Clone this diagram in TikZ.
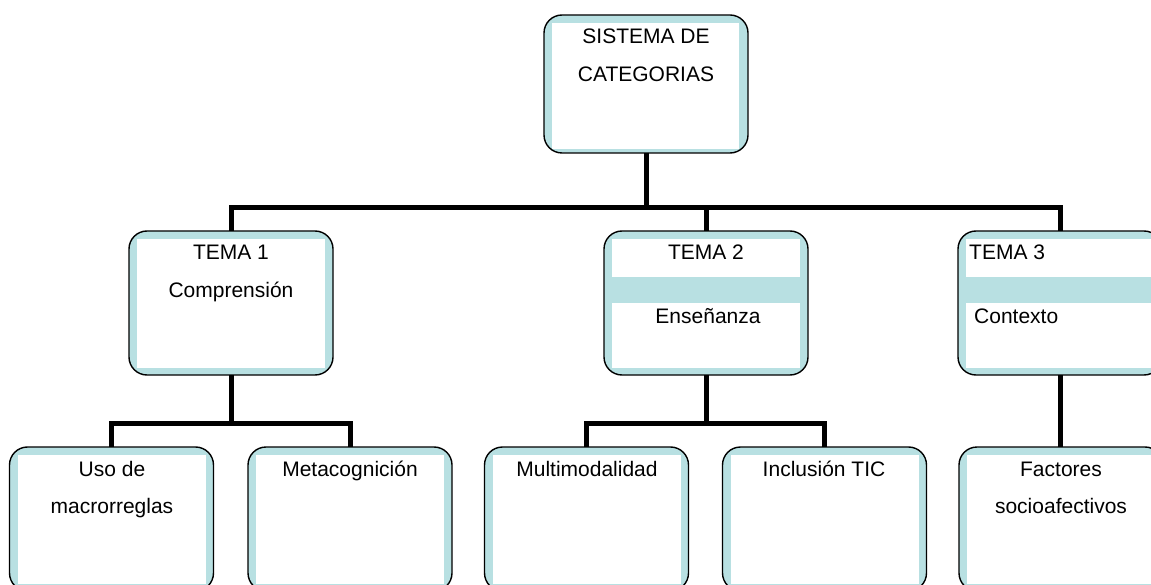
\documentclass[tikz,border=0pt]{standalone}
\usepackage{fontspec}
\setmainfont{Liberation Sans}
\usetikzlibrary{calc}
\definecolor{boxblue}{RGB}{184,224,226}
\tikzset{
  box/.style={draw=black, line width=1.4pt, rounded corners=18pt, fill=boxblue,
    minimum width=204pt, minimum height=144pt, inner sep=0pt, outer sep=0pt},
  conn/.style={draw=black, line width=5pt, line join=miter},
  lbl/.style={inner sep=0pt, anchor=base, font=\fontsize{21}{25}\selectfont},
  lblw/.style={lbl, anchor=base west},
  inner/.style={fill=white},
  stripe/.style={fill=boxblue}
}
\begin{document}
\begin{tikzpicture}[x=1pt,y=-1pt]
\useasboundingbox (0,0) rectangle (1151,585);
\clip (0,0) rectangle (1151,585);
% boxes
\node[box, minimum height=138pt] (root) at (646,84) {};
\node[box] (t1) at (231,303) {};
\node[box] (t2) at (706,303) {};
\node[box] (t3) at (1060,303) {};
\node[box] (u1) at (111.5,519) {};
\node[box] (u2) at (350,519) {};
\node[box] (u3) at (586.5,519) {};
\node[box] (u4) at (824.5,519) {};
\node[box] (u5) at (1061,519) {};
% white interiors
\fill[inner] ($(root.north west)+(8,8)$) rectangle ($(root.south east)+(-9,-4)$);
\foreach \b in {t1,t2,t3,u1,u2,u3,u4,u5}
  \fill[inner] ($(\b.north west)+(8,8)$) rectangle ($(\b.south east)+(-8,-7)$);
% stripes
\fill[stripe] ($(t2.north west)+(8,46)$) rectangle ($(t2.north east)+(-8,72)$);
\fill[stripe] ($(t3.north west)+(8,46)$) rectangle ($(t3.north east)+(-8,72)$);
% junctions
\coordinate (j0) at (646,207.5);
\coordinate (j1) at (231,423.3);
\coordinate (j2) at (706,423.3);
% connectors
\draw[conn] (root.south) -- (j0);
\draw[conn] (t1.north) |- (t3.north |- j0) -- (t3.north);
\draw[conn] (t2.north) -- (t2.north |- j0);
\draw[conn] (t1.south) -- (j1);
\draw[conn] (u1.north) |- (u2.north |- j1) -- (u2.north);
\draw[conn] (t2.south) -- (j2);
\draw[conn] (u3.north) |- (u4.north |- j2) -- (u4.north);
\draw[conn] (t3.south) -- (t3.south |- u5.north);
% labels
\node[lbl] (l0a) at (646,43.5) {SISTEMA DE};
\node[lbl] (l0b) at (646,81.5) {CATEGORIAS};
\node[lbl] (l1a) at (231,260) {TEMA 1};
\node[lbl] (l1b) at (231,297.5) {Comprensión};
\node[lbl] (l2a) at (706,260) {TEMA 2};
\node[lbl] (l2b) at (708,323.3) {Enseñanza};
\node[lblw] (l3a) at (969,260) {TEMA 3};
\node[lblw] (l3b) at (974,323.3) {Contexto};
\node[lbl] (m1a) at (112,476) {Uso de};
\node[lbl] (m1b) at (112,513) {macrorreglas};
\node[lbl] (m2) at (350,476) {Metacognición};
\node[lbl] (m3) at (587,476) {Multimodalidad};
\node[lbl] (m4) at (824,476) {Inclusión TIC};
\node[lbl] (m5a) at (1061,476) {Factores};
\node[lbl] (m5b) at (1061,513) {socioafectivos};
\end{tikzpicture}
\end{document}
